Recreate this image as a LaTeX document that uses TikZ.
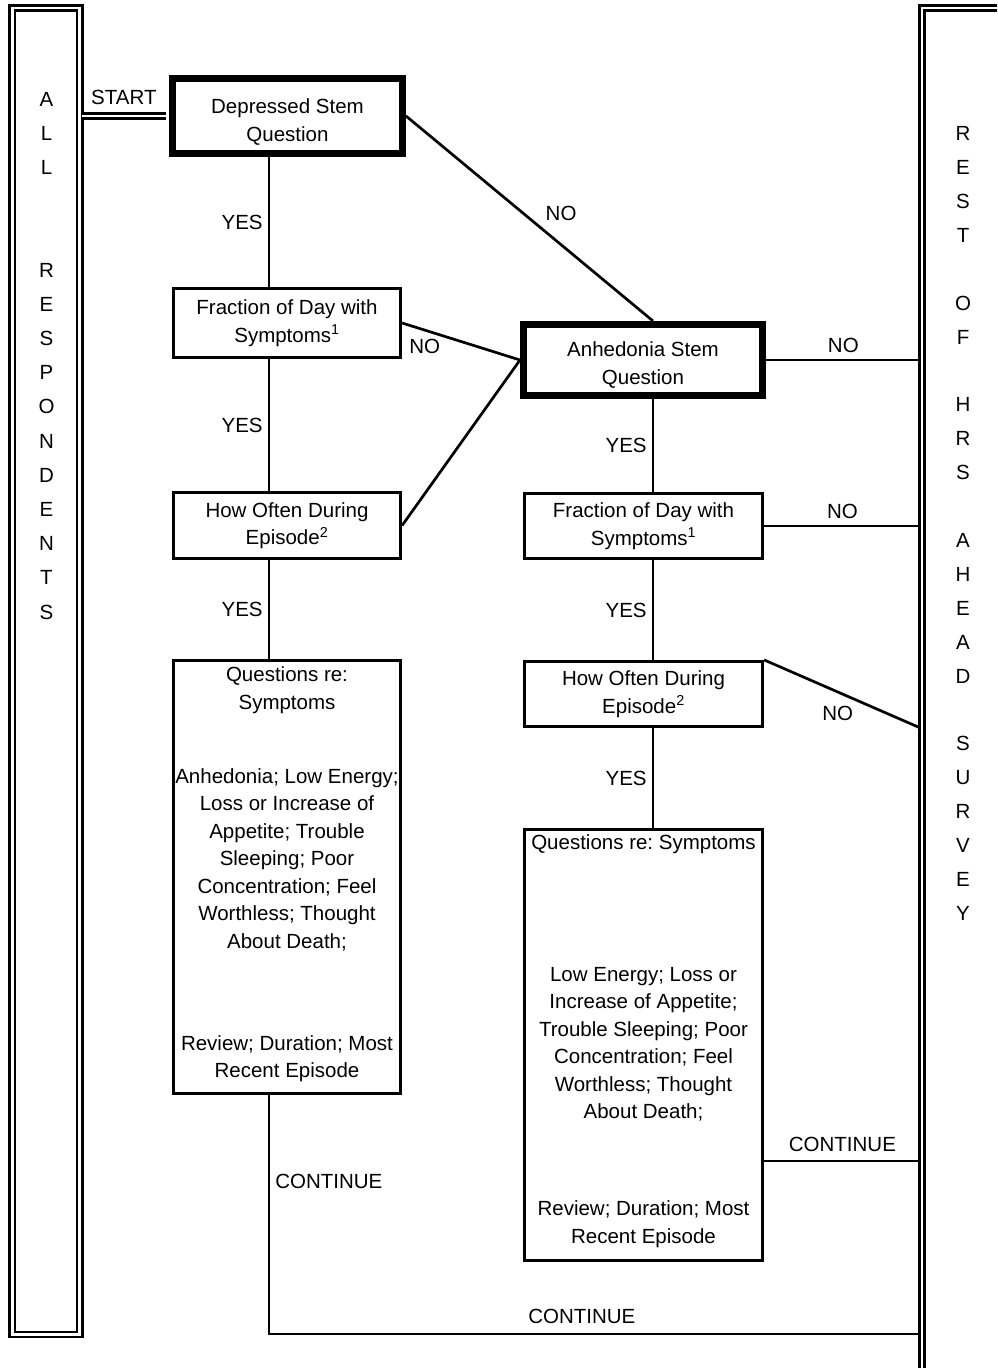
\documentclass[tikz,border=0pt]{standalone}
\usepackage{fontspec}
\setmainfont{Liberation Sans}
\usetikzlibrary{positioning}
\frenchspacing

\tikzset{
  box/.style={draw, line width=2.7pt, inner xsep=1pt, inner ysep=0pt, align=center},
  stembox/.style={box, line width=7pt},
  dbl/.style={draw, double, double distance=2.5pt, line width=2.6pt},
  conn/.style={line width=2.7pt},
  lbl/.style={inner sep=5pt},
  bartext/.style={align=center, inner sep=0pt}
}

\begin{document}
\begin{tikzpicture}[x=1pt, y=-1pt, font=\fontsize{20.5pt}{27.5pt}\selectfont]
    \useasboundingbox (0,0) rectangle (997,1368);
    \clip (0,0) rectangle (997,1368);

    \node[dbl, minimum width=67.4pt, minimum height=1326.6pt] (allresp) at (46,671.1) {};
    \node[dbl, minimum width=82pt, minimum height=1392pt] (rest) at (963,704) {};
    \node[bartext, font=\fontsize{20.5pt}{34.2pt}\selectfont] (allresptxt) at (46.5,355.7)
        {A\\L\\L\\[68.4pt]R\\E\\S\\P\\O\\N\\D\\E\\N\\T\\S};
    \node[bartext, font=\fontsize{20.5pt}{33.9pt}\selectfont] (resttxt) at (963,523.5)
        {R\\E\\S\\T\\[33.9pt]O\\F\\[33.9pt]H\\R\\S\\[33.9pt]A\\H\\E\\A\\D\\[33.9pt]S\\U\\R\\V\\E\\Y};

    \node[stembox, minimum width=230pt, minimum height=75pt, text height=54.5pt] (dep) at (287.5,116) {Depressed Stem\\Question};
    \node[box, minimum width=227.5pt, minimum height=69.5pt] (fracL) at (287,323) {Fraction of Day with\\Symptoms\textsuperscript{1}};
    \node[box, minimum width=227.5pt, minimum height=66.5pt] (howL) at (287,525.5) {How Often During\\Episode\textsuperscript{2}};
    \node[box, minimum width=227.5pt, minimum height=433.5pt, text depth=9pt] (qL) at (287,877)
        {Questions re:\\Symptoms\\[46.5pt]Anhedonia; Low Energy;\\Loss or Increase of\\Appetite; Trouble\\Sleeping; Poor\\Concentration; Feel\\Worthless; Thought\\About Death;\\[74.5pt]Review; Duration; Most\\Recent Episode};

    \node[stembox, minimum width=239pt, minimum height=71pt, text height=52.5pt] (anh) at (643,360) {Anhedonia Stem\\Question};
    \node[box, minimum width=238.5pt, minimum height=65.5pt] (fracR) at (643.5,526) {Fraction of Day with\\Symptoms\textsuperscript{1}};
    \node[box, minimum width=238.5pt, minimum height=65.5pt] (howR) at (643.5,694) {How Often During\\Episode\textsuperscript{2}};
    \node[box, minimum width=238.5pt, minimum height=431.5pt, text depth=12pt] (qR) at (643.5,1045)
        {Questions re: Symptoms\\[104.5pt]Low Energy; Loss or\\Increase of Appetite;\\Trouble Sleeping; Poor\\Concentration; Feel\\Worthless; Thought\\About Death;\\[69.5pt]Review; Duration; Most\\Recent Episode};

    \coordinate (lx) at (269,0);
    \coordinate (rx) at (653,0);
    \coordinate (bot) at (269,1334);
    \coordinate (qRout) at ([yshift=-116pt]qR.east);

    \draw[dbl] ([xshift=1.25pt]allresp.east |- dep.west) -- node[above, inner sep=10pt] {START} ([xshift=-3.5pt]dep.west);

    \draw[conn] (dep.south -| lx) -- node[lbl, left] {YES} (fracL.north -| lx);
    \draw[conn] (fracL.south -| lx) -- node[lbl, left] {YES} (howL.north -| lx);
    \draw[conn] (howL.south -| lx) -- node[lbl, left] {YES} (qL.north -| lx);
    \draw[conn, shorten >=2.5pt] (qL.south -| lx) -- node[lbl, right, pos=0.36] {CONTINUE} (bot)
        -- node[above, pos=0.48, inner sep=9pt] {CONTINUE} (rest.west |- bot);

    \draw[conn] (dep.east) -- node[lbl, pos=0.54, anchor=south west] {NO} (anh.north -| rx);
    \draw[conn] (fracL.east) -- node[pos=0.05, anchor=north west, inner sep=0pt, yshift=-12.5pt] {NO} (anh.west);
    \draw[conn] (howL.east) -- (anh.west);

    \draw[conn] (anh.south -| rx) -- node[lbl, left] {YES} (fracR.north -| rx);
    \draw[conn] (fracR.south -| rx) -- node[lbl, left] {YES} (howR.north -| rx);
    \draw[conn] (howR.south -| rx) -- node[lbl, left] {YES} (qR.north -| rx);

    \draw[conn, shorten >=2.5pt] (anh.east) -- node[above, inner sep=6pt] {NO} (rest.west |- anh.east);
    \draw[conn, shorten >=2.5pt] (fracR.east) -- node[above, inner sep=6pt] {NO} (rest.west |- fracR.east);
    \draw[conn, shorten >=2.5pt] (howR.north east) -- node[lbl, pos=0.47, below, yshift=-8pt] {NO} (rest.west |- howR.south);
    \draw[conn, shorten >=2.5pt] (qRout) -- node[above, inner sep=8pt] {CONTINUE} (rest.west |- qRout);
\end{tikzpicture}
\end{document}
